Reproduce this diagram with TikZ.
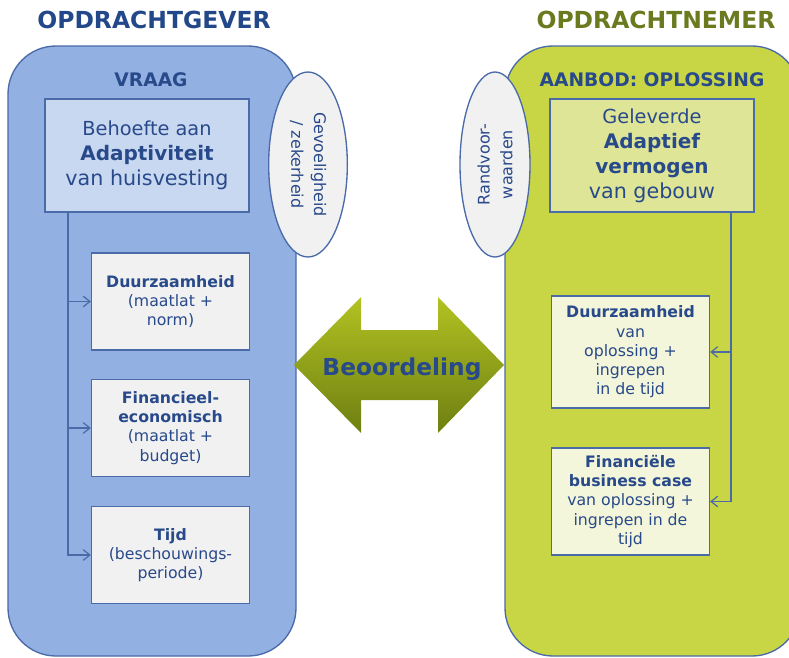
\documentclass[tikz,border=0pt]{standalone}
\usepackage{fontspec}
\setmainfont{DejaVu Sans}
\usetikzlibrary{shapes.geometric,arrows.meta}

\definecolor{titelblauw}{HTML}{234889}
\definecolor{titelgroen}{HTML}{6A7A1E}
\definecolor{tekstblauw}{HTML}{28498A}
\definecolor{randblauw}{HTML}{4A6AA8}
\definecolor{vraagvlak}{HTML}{92B0E2}
\definecolor{vraagvak}{HTML}{C9D8F1}
\definecolor{grijsvak}{HTML}{F1F1F1}
\definecolor{aanbodvlak}{HTML}{C8D646}
\definecolor{aanbodvak}{HTML}{DEE596}
\definecolor{lichtgroen}{HTML}{F3F6DA}
\definecolor{pijlboven}{HTML}{B2C222}
\definecolor{pijlonder}{HTML}{6E7F12}

\tikzset{
  panel/.style={draw=randblauw, line width=1pt, rounded corners=36pt},
  kop/.style={font=\bfseries\fontsize{17.6}{20}\selectfont},
  blokkop/.style={font=\bfseries\fontsize{14}{17}\selectfont},
  hoofdvak/.style={draw=randblauw, line width=1pt, inner sep=0pt,
    minimum width=153pt, minimum height=84.75pt, align=center,
    font=\fontsize{14.5}{18.75}\selectfont},
  critvak/.style={draw=randblauw, line width=1pt, inner sep=0pt,
    minimum width=118.5pt, minimum height=72.75pt, align=center,
    font=\fontsize{11.8}{14.4}\selectfont},
  ovaal/.style={ellipse, draw=randblauw, line width=1pt, fill=grijsvak,
    inner sep=0pt, minimum width=138.75pt, align=center,
    font=\fontsize{12}{17}\selectfont},
  pijl/.style={draw=randblauw, line width=0.9pt,
    -{Straight Barb[length=5pt,width=8pt]}},
}

\begin{document}
\begin{tikzpicture}[x=0.75pt, y=-0.75pt, every node/.style={text=tekstblauw}]
  \def\stamL{68} % x of left trunk line
  \def\stamR{731} % x of right trunk line

  \useasboundingbox (0,0) rectangle (789,657);

  % PANELS
  \draw [panel, fill=vraagvlak]  (8,46)   rectangle (296,656);
  \draw [panel, fill=aanbodvlak] (505,46) rectangle (800,656);

  \node [kop, text=titelblauw] (gever)  at (154,20) {OPDRACHTGEVER};
  \node [kop, text=titelgroen] (nemer)  at (656,20) {OPDRACHTNEMER};
  \node [blokkop]              (vraag)  at (151,80) {VRAAG};
  \node [blokkop]              (aanbod) at (652,80) {AANBOD: OPLOSSING};

  % ELLIPSES
  \node [ovaal, rotate=-90, minimum height=59pt] (gevoel) at (308,164.5)
        {Gevoeligheid\\/ zekerheid};
  \node [ovaal, rotate=90, minimum height=52.5pt] (randvw) at (495,164.5)
        {Randvoor-\\waarden};

  % TOP BOXES
  \node [hoofdvak, fill=vraagvak] (behoefte) at (147,155.5)
        {Behoefte aan\\{\bfseries\fontsize{15}{18.75}\selectfont Adaptiviteit}\\
         {\fontsize{15.5}{18.75}\selectfont van huisvesting}};
  \node [hoofdvak, fill=aanbodvak] (vermogen) at (652,155.5)
        {Geleverde\\{\bfseries\fontsize{15}{18.75}\selectfont Adaptief}\\
         {\bfseries\fontsize{15}{18.75}\selectfont vermogen}\\
         {\fontsize{15.5}{18.75}\selectfont van gebouw}};

  % CRITERIA
  \node [critvak, fill=grijsvak] (duur) at (170.5,301.5)
        {\textbf{Duurzaamheid}\\(maatlat +\\norm)};
  \node [critvak, fill=grijsvak] (fin)  at (170.5,428)
        {\textbf{Financieel-}\\\textbf{economisch}\\(maatlat +\\budget)};
  \node [critvak, fill=grijsvak] (tijd) at (170.5,555)
        {\textbf{Tijd}\\(beschouwings-\\periode)};

  \node [critvak, fill=lichtgroen, minimum height=84pt] (duurr) at (630.5,352)
        {\textbf{Duurzaamheid}\\van\\oplossing +\\ingrepen\\in de tijd};
  \node [critvak, fill=lichtgroen, minimum height=80.25pt] (finr) at (630.5,501.5)
        {\textbf{Financiële}\\\textbf{business case}\\van oplossing +\\ingrepen in de\\tijd};

  % CONNECTORS
  \coordinate (trunkL) at (\stamL,0);
  \coordinate (trunkR) at (\stamR,0);
  \draw [pijl] (behoefte.south -| trunkL) |- (tijd.west);
  \draw [pijl] (trunkL |- duur.west) -- (duur.west);
  \draw [pijl] (trunkL |- fin.west)  -- (fin.west);
  \draw [pijl] (vermogen.south -| trunkR) |- (finr.east);
  \draw [pijl] (trunkR |- duurr.east) -- (duurr.east);

  % BEOORDELING
  \shade [top color=pijlboven, bottom color=pijlonder]
    (294,365) -- (361,297) -- (361,330) -- (438,330) -- (438,297)
    -- (504,365) -- (438,433) -- (438,400) -- (361,400) -- (361,433) -- cycle;
  \node [font=\bfseries\fontsize{17.5}{20}\selectfont] (beoord) at (402,369)
        {Beoordeling};

\end{tikzpicture}
\end{document}
